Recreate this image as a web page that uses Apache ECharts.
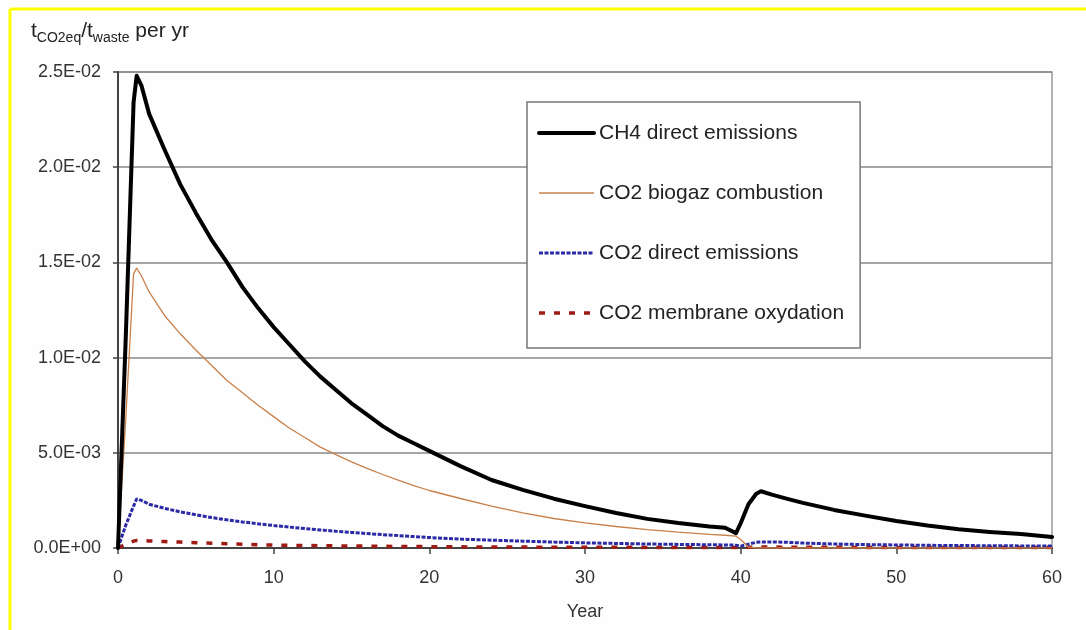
<!DOCTYPE html>
<html>
<head>
<meta charset="utf-8">
<script src="https://cdn.jsdelivr.net/npm/echarts@6/dist/echarts.min.js"></script>
<style>
  html, body { margin: 0; padding: 0; background: #fefefe; }
  #main { width: 1086px; height: 630px; }
</style>
</head>
<body>
<div id="main"></div>
<script>
// 年份（横轴）
var years = [0, 0.5, 1, 1.2, 1.5, 2, 3, 4, 5, 6, 7, 8, 9, 10, 11, 12, 13, 14, 15, 16, 17, 18, 19, 20,
	22, 24, 26, 28, 30, 32, 34, 36, 38, 39, 39.7, 40, 40.5, 41, 41.3, 42, 43, 44, 46, 48, 50, 52, 54, 56, 58, 60];

// CH4 direct emissions
var ch4Direct = [0, 0.0111, 0.0234, 0.0248, 0.0243, 0.0228, 0.0209, 0.0191, 0.0176, 0.0162, 0.0150, 0.0137, 0.0126, 0.0116, 0.0107, 0.0098, 0.0090, 0.0083, 0.0076, 0.0070, 0.0064, 0.0059, 0.0055, 0.0051,
	0.0043, 0.00357, 0.00305, 0.00259, 0.0022, 0.00184, 0.00153, 0.00131, 0.00113, 0.00106, 0.00078, 0.0013, 0.0023, 0.00285, 0.00298, 0.0028, 0.00258, 0.00237, 0.0020, 0.0017, 0.00142, 0.00118, 0.00098, 0.00084, 0.00073, 0.00058];

// CO2 biogaz combustion
var co2Biogaz = [0, 0.0068, 0.0144, 0.0147, 0.0143, 0.01345, 0.0122, 0.01125, 0.0104, 0.0096, 0.0088, 0.00815, 0.0075, 0.0069, 0.0063, 0.0058, 0.0053, 0.0049, 0.00452, 0.00418, 0.00386, 0.00356, 0.00328, 0.00302,
	0.0026, 0.0022, 0.00185, 0.00155, 0.00132, 0.00113, 0.00097, 0.00083, 0.00072, 0.00067, 0.00062, 0.00045, 0.00005, 0, 0, 0, 0, 0, 0, 0, 0, 0, 0, 0, 0, 0];

// CO2 direct emissions
var co2Direct = [0, 0.0012, 0.0022, 0.00258, 0.0025, 0.0023, 0.00208, 0.0019, 0.00175, 0.0016, 0.00148, 0.00137, 0.00127, 0.00118, 0.0011, 0.00102, 0.00095, 0.00088, 0.00082, 0.00076, 0.0007, 0.00065, 0.0006, 0.00055,
	0.00047, 0.00041, 0.00036, 0.00031, 0.00027, 0.00024, 0.00021, 0.00019, 0.00017, 0.00016, 0.00015, 0.0001, 0.0002, 0.0003, 0.00032, 0.00032, 0.0003, 0.00026, 0.00021, 0.00018, 0.00016, 0.00014, 0.00013, 0.00012, 0.00011, 0.0001];

// CO2 membrane oxydation
var co2Membrane = [0, 0.0002, 0.00036, 0.0004, 0.00039, 0.00037, 0.00034, 0.00031, 0.00028, 0.00025, 0.00022, 0.0002, 0.00017, 0.00015, 0.00014, 0.00013, 0.00012, 0.00011, 0.0001, 0.0001, 0.00009, 0.00008, 0.00008, 0.00007,
	0.00006, 0.00005, 0.00005, 0.00004, 0.00004, 0.00004, 0.00003, 0.00003, 0.00003, 0.00003, 0.00003, 0.00002, 0.00004, 0.00005, 0.00005, 0.00005, 0.00004, 0.00004, 0.00004, 0.00003, 0.00003, 0.00003, 0.00002, 0.00002, 0.00002, 0.00002];

var seriesNames = ['CH4 direct emissions', 'CO2 biogaz combustion', 'CO2 direct emissions', 'CO2 membrane oxydation'];

function toPairs(ys) {
	var out = [];
	for (var i = 0; i < years.length; i++) {
		out.push([years[i], ys[i]]);
	}
	return out;
}

// 2.5E-02 这种格式
function sciLabel(v) {
	if (v == 0) {
		return '0.0E+00';
	}
	var s = v.toExponential(1).toUpperCase();
	var parts = s.split('E');
	var exp = parseInt(parts[1], 10);
	var sign = exp < 0 ? '-' : '+';
	var a = Math.abs(exp);
	return parts[0] + 'E' + sign + (a < 10 ? '0' + a : a);
}

var FONT = 'Liberation Sans';

var myChart = echarts.init(document.getElementById('main'));
var option = {
	backgroundColor : '#fefefe',
	animation : false,
	title : {
		text : '{t|t}{s|CO2eq}{t|/t}{s|waste}{t| per yr}',
		left : 26,
		top : 12,
		textStyle : {
			rich : {
				t : { fontFamily : FONT, fontSize : 21, fontWeight : 'normal', color : '#222', lineHeight : 28, verticalAlign : 'middle' },
				s : { fontFamily : FONT, fontSize : 14, fontWeight : 'normal', color : '#222', lineHeight : 28, verticalAlign : 'bottom' }
			}
		}
	},
	legend : {
		orient : 'vertical',
		left : 527,
		top : 102,
		padding : [20, 16, 24, 10],
		borderColor : '#777',
		borderWidth : 1.5,
		backgroundColor : '#fefefe',
		itemWidth : 55,
		itemHeight : 14,
		itemGap : 38,
		itemStyle : { opacity : 0 },
		lineStyle : { width : 'inherit' },
		data : seriesNames,
		textStyle : { fontFamily : FONT, fontSize : 21, color : '#222', lineHeight : 22 }
	},
	grid : {
		left : 118,
		right : 34,
		top : 72,
		bottom : 82,
		show : true,
		borderColor : '#999',
		borderWidth : 1.5,
		backgroundColor : 'transparent'
	},
	xAxis : {
		type : 'value',
		min : 0,
		max : 60,
		interval : 10,
		name : 'Year',
		nameLocation : 'middle',
		nameGap : 55,
		nameTextStyle : { fontFamily : FONT, fontSize : 18, color : '#333' },
		axisLine : { show : true, lineStyle : { color : '#444', width : 2 } },
		axisTick : { show : true, length : 6, lineStyle : { color : '#444', width : 1.5 } },
		axisLabel : { fontFamily : FONT, fontSize : 18, color : '#333', margin : 21 },
		splitLine : { show : false }
	},
	yAxis : {
		type : 'value',
		min : 0,
		max : 0.025,
		interval : 0.005,
		axisLine : { show : true, lineStyle : { color : '#444', width : 2 } },
		axisTick : { show : true, length : 5, lineStyle : { color : '#444', width : 1.5 } },
		axisLabel : { fontFamily : FONT, fontSize : 18, color : '#333', margin : 17, formatter : sciLabel },
		splitLine : { show : true, lineStyle : { color : '#888', width : 1.5 } }
	},
	graphic : [
		{ type : 'line', shape : { x1 : 10, y1 : 9, x2 : 1086, y2 : 9 }, style : { stroke : '#ffff00', lineWidth : 3 } },
		{ type : 'line', shape : { x1 : 10, y1 : 9, x2 : 10, y2 : 630 }, style : { stroke : '#ffff00', lineWidth : 3 } }
	],
	series : [ {
		name : seriesNames[0],
		type : 'line',
		symbol : 'none',
		z : 4,
		lineStyle : { color : '#000', width : 4, cap : 'round', join : 'round' },
		itemStyle : { color : '#000' },
		data : toPairs(ch4Direct)
	}, {
		name : seriesNames[1],
		type : 'line',
		symbol : 'none',
		z : 3,
		lineStyle : { color : '#c8804a', width : 1.3 },
		itemStyle : { color : '#c8804a' },
		data : toPairs(co2Biogaz)
	}, {
		name : seriesNames[2],
		type : 'line',
		symbol : 'none',
		z : 2,
		lineStyle : { color : '#2a2aa8', width : 3, type : [4, 1.5] },
		itemStyle : { color : '#2a2aa8' },
		data : toPairs(co2Direct)
	}, {
		name : seriesNames[3],
		type : 'line',
		symbol : 'none',
		z : 1,
		lineStyle : { color : '#a01a14', width : 3.5, type : [6, 9] },
		itemStyle : { color : '#a01a14' },
		data : toPairs(co2Membrane)
	} ]
};
myChart.setOption(option);
</script>
</body>
</html>
